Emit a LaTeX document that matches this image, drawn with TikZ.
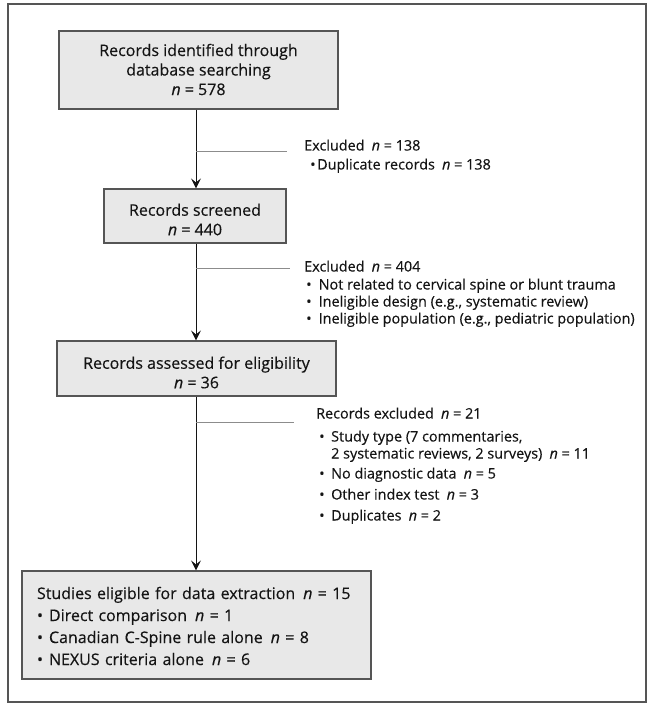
\documentclass[tikz,border=0pt]{standalone}
\usepackage{fontspec}
\setmainfont{Open Sans}[FakeBold=0.35]
\usetikzlibrary{arrows.meta}
\definecolor{boxfill}{HTML}{E8E8E8}
\definecolor{boxline}{HTML}{555555}
\definecolor{txt}{HTML}{141414}
\definecolor{brline}{HTML}{8C8C8C}
\newcommand{\nv}{\textit{n}}
\newcommand{\bitem}[2]{\makebox[#1][l]{\textbullet}#2}
\begin{document}
\begin{tikzpicture}[x=1pt,y=-1pt,
  box/.style={draw=boxline, fill=boxfill, line width=1.1pt, inner sep=0pt},
  boxtext/.style={font=\fontsize{16}{19.5}\selectfont, align=center, text=txt, inner sep=0pt},
  side/.style={font=\fontsize{14.4}{16}\selectfont, text=txt, anchor=west, inner sep=0pt, text height=10pt, text depth=3pt},
  flow/.style={-{Stealth[length=10pt,width=10pt,inset=4pt]}, line width=0.9pt, draw=txt},
  branch/.style={line width=1pt, draw=brline}]
\useasboundingbox (0,0) rectangle (660,708);
\draw[line width=1.6pt, draw=boxline] (8,4) rectangle (646,702);
\coordinate (tx) at (196,0);
% boxes
\node[box, minimum width=279pt, minimum height=78pt] (b1) at (198.5,70) {};
\node[box, minimum width=182pt, minimum height=54pt] (b2) at (195,216) {};
\node[box, minimum width=279pt, minimum height=55pt] (b3) at (196.5,368.5) {};
\node[box, minimum width=349pt, minimum height=108pt] (b4) at (196.5,625) {};
% box texts
\node[boxtext] (b1t) at ([yshift=0.5pt]b1.center)
  {Records identified through\\database searching\\\nv{} = 578};
\node[boxtext] (b2t) at ([yshift=-3.5pt]b2.center)
  {Records screened\\\nv{} = 440};
\node[boxtext] (b3t) at ([yshift=-4pt]b3.center)
  {Records assessed for eligibility\\\nv{} = 36};
\node[boxtext, font=\fontsize{16}{22}\selectfont, align=left, text width=319pt] (b4t) at ([yshift=-1pt]b4.center)
  {Studies eligible for data extraction\enspace\nv{} = 15\\
   \bitem{12pt}{Direct comparison\enspace\nv{} = 1}\\
   \bitem{12pt}{Canadian C-Spine rule alone\enspace\nv{} = 8}\\
   \bitem{12pt}{NEXUS criteria alone\enspace\nv{} = 6}};
% trunk arrows
\draw[flow] (tx |- b1.south) -- (tx |- b2.north);
\draw[flow] (tx |- b2.south) -- (tx |- b3.north);
\draw[flow] (tx |- b3.south) -- (tx |- b4.north);
% branches
\coordinate (j1) at (196,152); \coordinate (e1) at (287,152);
\coordinate (j2) at (196,268); \coordinate (e2) at (290,268);
\coordinate (j3) at (196,422); \coordinate (e3) at (294,422);
\draw[branch] (j1) -- (e1);
\draw[branch] (j2) -- (e2);
\draw[branch] (j3) -- (e3);
% side texts
\node[side] (x1) at (304,147) {Excluded\enspace\nv{} = 138};
\node[side] (x1a) at (310,166) {\bitem{7pt}{Duplicate records\enspace\nv{} = 138}};
\node[side] (x2) at (304,268) {Excluded\enspace\nv{} = 404};
\node[side] (x2a) at (306,286) {\bitem{12.5pt}{Not related to cervical spine or blunt trauma}};
\node[side] (x2b) at (306,303) {\bitem{12.5pt}{Ineligible design (e.g., systematic review)}};
\node[side] (x2c) at (306,320) {\bitem{12.5pt}{Ineligible population (e.g., pediatric population)}};
\node[side] (x3) at (316,415) {Records excluded\enspace\nv{} = 21};
\node[side] (x3a) at (319,438) {\bitem{12pt}{Study type (7 commentaries,}};
\node[side] (x3b) at (331,455) {2 systematic reviews, 2 surveys)\enspace\nv{} = 11};
\node[side] (x3c) at (319,475) {\bitem{12pt}{No diagnostic data\enspace\nv{} = 5}};
\node[side] (x3d) at (319,496) {\bitem{12pt}{Other index test\enspace\nv{} = 3}};
\node[side] (x3e) at (319,517) {\bitem{12pt}{Duplicates\enspace\nv{} = 2}};
\end{tikzpicture}
\end{document}
